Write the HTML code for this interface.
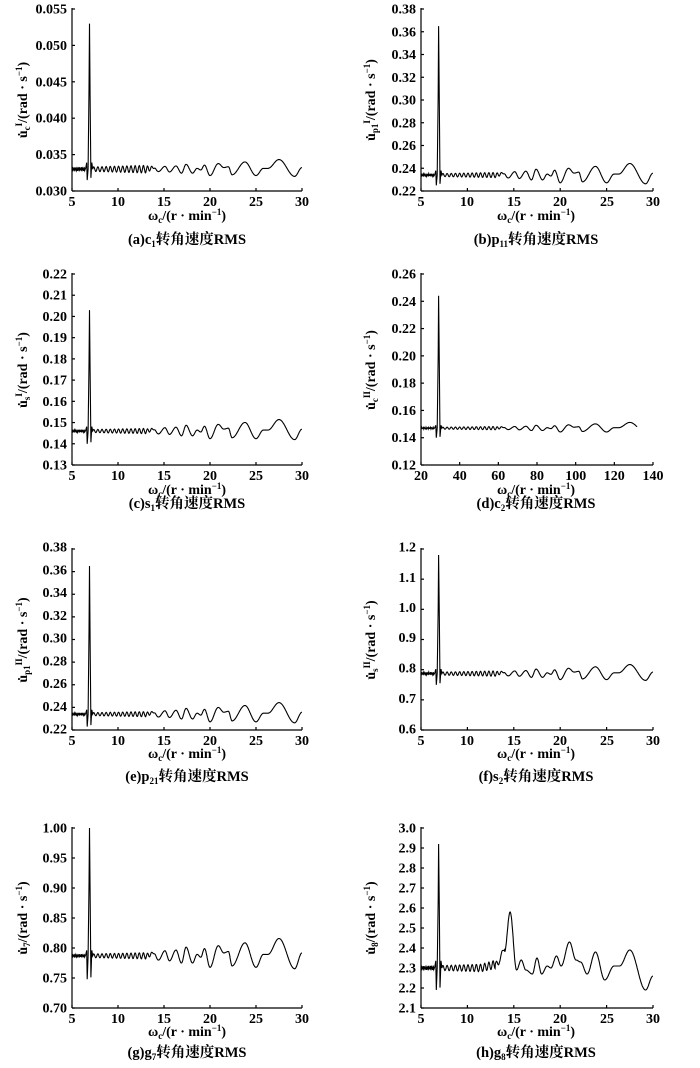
<!DOCTYPE html>
<html><head><meta charset="utf-8"><style>
body{margin:0;background:#fff;}
svg{display:block;font-family:"Liberation Serif","Noto Serif CJK SC",serif;font-weight:bold;}
.t{font-size:14px;}
.yl text{text-anchor:end;}
.xl text{text-anchor:middle;}
.cap{font-size:14.5px;text-anchor:middle;}
</style></head><body>
<svg id="s" width="700" height="1068" viewBox="0 0 700 1068" xmlns="http://www.w3.org/2000/svg">
<g id="axes" stroke="#000" stroke-width="1.2" fill="none"></g>
<g id="curves" stroke="#000" stroke-width="1.1" fill="none"></g>
<g class="t yl">
<text x="67" y="13.5">0.055</text><text x="67" y="50">0.050</text><text x="67" y="86.3">0.045</text><text x="67" y="122.7">0.040</text><text x="67" y="159">0.035</text><text x="67" y="195.5">0.030</text>
<text x="416" y="13.5">0.38</text><text x="416" y="36.3">0.36</text><text x="416" y="59">0.34</text><text x="416" y="81.8">0.32</text><text x="416" y="104.5">0.30</text><text x="416" y="127.3">0.28</text><text x="416" y="150">0.26</text><text x="416" y="172.8">0.24</text><text x="416" y="195.5">0.22</text>
<text x="67" y="278.5">0.22</text><text x="67" y="299.7">0.21</text><text x="67" y="320.9">0.20</text><text x="67" y="342.2">0.19</text><text x="67" y="363.4">0.18</text><text x="67" y="384.6">0.17</text><text x="67" y="405.8">0.16</text><text x="67" y="427.1">0.15</text><text x="67" y="448.3">0.14</text><text x="67" y="469.5">0.13</text>
<text x="416" y="278.5">0.26</text><text x="416" y="305.8">0.24</text><text x="416" y="333.1">0.22</text><text x="416" y="360.4">0.20</text><text x="416" y="387.6">0.18</text><text x="416" y="414.9">0.16</text><text x="416" y="442.2">0.14</text><text x="416" y="469.5">0.12</text>
<text x="67" y="551.5">0.38</text><text x="67" y="574.3">0.36</text><text x="67" y="597">0.34</text><text x="67" y="619.8">0.32</text><text x="67" y="642.5">0.30</text><text x="67" y="665.3">0.28</text><text x="67" y="688">0.26</text><text x="67" y="710.8">0.24</text><text x="67" y="733.5">0.22</text>
<text x="416" y="551.5">1.2</text><text x="416" y="581.8">1.1</text><text x="416" y="612">1.0</text><text x="416" y="642.2">0.9</text><text x="416" y="672.5">0.8</text><text x="416" y="702.8">0.7</text><text x="416" y="733.5">0.6</text>
<text x="67" y="832.5">1.00</text><text x="67" y="862.5">0.95</text><text x="67" y="892.5">0.90</text><text x="67" y="922.5">0.85</text><text x="67" y="952.5">0.80</text><text x="67" y="982.5">0.75</text><text x="67" y="1012.5">0.70</text>
<text x="416" y="832.5">3.0</text><text x="416" y="852.5">2.9</text><text x="416" y="872.5">2.8</text><text x="416" y="892.5">2.7</text><text x="416" y="912.5">2.6</text><text x="416" y="932.5">2.5</text><text x="416" y="952.5">2.4</text><text x="416" y="972.5">2.3</text><text x="416" y="992.5">2.2</text><text x="416" y="1012.5">2.1</text>
</g>
<g class="t xl">
<text x="72" y="206">5</text><text x="118" y="206">10</text><text x="164" y="206">15</text><text x="210" y="206">20</text><text x="256" y="206">25</text><text x="302" y="206">30</text>
<text x="421" y="206">5</text><text x="467" y="206">10</text><text x="514" y="206">15</text><text x="560" y="206">20</text><text x="607" y="206">25</text><text x="653" y="206">30</text>
<text x="72" y="480">5</text><text x="118" y="480">10</text><text x="164" y="480">15</text><text x="210" y="480">20</text><text x="256" y="480">25</text><text x="302" y="480">30</text>
<text x="421" y="480">20</text><text x="459.7" y="480">40</text><text x="498.3" y="480">60</text><text x="537" y="480">80</text><text x="575.7" y="480">100</text><text x="614.3" y="480">120</text><text x="653" y="480">140</text>
<text x="72" y="745">5</text><text x="118" y="745">10</text><text x="164" y="745">15</text><text x="210" y="745">20</text><text x="256" y="745">25</text><text x="302" y="745">30</text>
<text x="421" y="745">5</text><text x="467" y="745">10</text><text x="514" y="745">15</text><text x="560" y="745">20</text><text x="607" y="745">25</text><text x="653" y="745">30</text>
<text x="72" y="1023">5</text><text x="118" y="1023">10</text><text x="164" y="1023">15</text><text x="210" y="1023">20</text><text x="256" y="1023">25</text><text x="302" y="1023">30</text>
<text x="421" y="1023">5</text><text x="467" y="1023">10</text><text x="514" y="1023">15</text><text x="560" y="1023">20</text><text x="607" y="1023">25</text><text x="653" y="1023">30</text>
</g>
<g class="t xl">
<text x="187" y="220">ω<tspan font-size="9" dy="3">c</tspan><tspan dy="-3">/(r · min</tspan><tspan font-size="9" dy="-5">−1</tspan><tspan dy="5">)</tspan></text>
<text x="536" y="220">ω<tspan font-size="9" dy="3">c</tspan><tspan dy="-3">/(r · min</tspan><tspan font-size="9" dy="-5">−1</tspan><tspan dy="5">)</tspan></text>
<text x="187" y="494">ω<tspan font-size="9" dy="3">c</tspan><tspan dy="-3">/(r · min</tspan><tspan font-size="9" dy="-5">−1</tspan><tspan dy="5">)</tspan></text>
<text x="536" y="494">ω<tspan font-size="9" dy="3">c</tspan><tspan dy="-3">/(r · min</tspan><tspan font-size="9" dy="-5">−1</tspan><tspan dy="5">)</tspan></text>
<text x="187" y="758">ω<tspan font-size="9" dy="3">c</tspan><tspan dy="-3">/(r · min</tspan><tspan font-size="9" dy="-5">−1</tspan><tspan dy="5">)</tspan></text>
<text x="536" y="758">ω<tspan font-size="9" dy="3">c</tspan><tspan dy="-3">/(r · min</tspan><tspan font-size="9" dy="-5">−1</tspan><tspan dy="5">)</tspan></text>
<text x="187" y="1036">ω<tspan font-size="9" dy="3">c</tspan><tspan dy="-3">/(r · min</tspan><tspan font-size="9" dy="-5">−1</tspan><tspan dy="5">)</tspan></text>
<text x="536" y="1036">ω<tspan font-size="9" dy="3">c</tspan><tspan dy="-3">/(r · min</tspan><tspan font-size="9" dy="-5">−1</tspan><tspan dy="5">)</tspan></text>
</g>
<g class="cap">
<text x="187" y="244">(a)c<tspan font-size="9" dy="3">1</tspan><tspan dy="-3">转角速度RMS</tspan></text>
<text x="536" y="244">(b)p<tspan font-size="9" dy="3">11</tspan><tspan dy="-3">转角速度RMS</tspan></text>
<text x="187" y="508">(c)s<tspan font-size="9" dy="3">1</tspan><tspan dy="-3">转角速度RMS</tspan></text>
<text x="536" y="508">(d)c<tspan font-size="9" dy="3">2</tspan><tspan dy="-3">转角速度RMS</tspan></text>
<text x="187" y="781">(e)p<tspan font-size="9" dy="3">21</tspan><tspan dy="-3">转角速度RMS</tspan></text>
<text x="536" y="781">(f)s<tspan font-size="9" dy="3">2</tspan><tspan dy="-3">转角速度RMS</tspan></text>
<text x="187" y="1057">(g)g<tspan font-size="9" dy="3">7</tspan><tspan dy="-3">转角速度RMS</tspan></text>
<text x="536" y="1057">(h)g<tspan font-size="9" dy="3">8</tspan><tspan dy="-3">转角速度RMS</tspan></text>
</g>
<g class="t">
<text transform="translate(27,100) rotate(-90)" text-anchor="middle">u̇<tspan font-size="9" dy="3">c</tspan><tspan font-size="9" dy="-8">I</tspan><tspan dy="5">/(rad · s</tspan><tspan font-size="9" dy="-5">−1</tspan><tspan dy="5">)</tspan></text>
<text transform="translate(375,100) rotate(-90)" text-anchor="middle">u̇<tspan font-size="9" dy="3">p1</tspan><tspan font-size="9" dy="-8">I</tspan><tspan dy="5">/(rad · s</tspan><tspan font-size="9" dy="-5">−1</tspan><tspan dy="5">)</tspan></text>
<text transform="translate(27,370) rotate(-90)" text-anchor="middle">u̇<tspan font-size="9" dy="3">s</tspan><tspan font-size="9" dy="-8">I</tspan><tspan dy="5">/(rad · s</tspan><tspan font-size="9" dy="-5">−1</tspan><tspan dy="5">)</tspan></text>
<text transform="translate(375,370) rotate(-90)" text-anchor="middle">u̇<tspan font-size="9" dy="3">c</tspan><tspan font-size="9" dy="-8">II</tspan><tspan dy="5">/(rad · s</tspan><tspan font-size="9" dy="-5">−1</tspan><tspan dy="5">)</tspan></text>
<text transform="translate(27,640) rotate(-90)" text-anchor="middle">u̇<tspan font-size="9" dy="3">p1</tspan><tspan font-size="9" dy="-8">II</tspan><tspan dy="5">/(rad · s</tspan><tspan font-size="9" dy="-5">−1</tspan><tspan dy="5">)</tspan></text>
<text transform="translate(375,640) rotate(-90)" text-anchor="middle">u̇<tspan font-size="9" dy="3">s</tspan><tspan font-size="9" dy="-8">II</tspan><tspan dy="5">/(rad · s</tspan><tspan font-size="9" dy="-5">−1</tspan><tspan dy="5">)</tspan></text>
<text transform="translate(27,918) rotate(-90)" text-anchor="middle">u̇<tspan font-size="9" dy="3">7</tspan><tspan dy="-3">/(rad · s</tspan><tspan font-size="9" dy="-5">−1</tspan><tspan dy="5">)</tspan></text>
<text transform="translate(375,918) rotate(-90)" text-anchor="middle">u̇<tspan font-size="9" dy="3">8</tspan><tspan dy="-3">/(rad · s</tspan><tspan font-size="9" dy="-5">−1</tspan><tspan dy="5">)</tspan></text>
</g>
</svg>
<script>
(function(){
var NS="http://www.w3.org/2000/svg";
var axes=document.getElementById("axes"),cur=document.getElementById("curves");
// x0,x1,top,bottom,ymin,ymax,nY, base, noise, spikeMax, spikeMin, oscAmp, xend, special, nX
var P=[
[72,302,9,191,0.030,0.055,6,0.033,0.0003,0.053,0.0315,0.0011,30,0,6],
[421,653,9,191,0.22,0.38,9,0.234,0.0013,0.365,0.225,0.0085,30,0,6],
[72,302,274,465,0.13,0.22,10,0.146,0.0007,0.203,0.140,0.0045,30,0,6],
[421,653,274,465,0.12,0.26,8,0.147,0.0007,0.244,0.140,0.0035,28.3,0,7],
[72,302,549,730,0.22,0.38,9,0.234,0.0013,0.365,0.223,0.0085,30,0,6],
[421,653,549,730,0.6,1.2,7,0.787,0.005,1.18,0.75,0.025,30,0,6],
[72,302,828,1008,0.70,1.00,7,0.787,0.003,1.0,0.748,0.024,30,0,6],
[421,653,828,1008,2.1,3.0,10,2.30,0.012,2.92,2.19,0.06,30,1,6]
];
var EX=[[13,0],[13.8,0.3],[14.4,-0.3],[15.1,0.35],[15.6,-0.35],[16.3,0.4],[16.9,-0.5],[17.4,0.6],[18.1,-0.5],[18.6,0.1],[19.0,-0.1],[19.4,0.5],[20.0,-0.8],[20.9,0.7],[21.5,0.2],[22,0.3],[22.4,-0.7],[23.8,0.9],[25,-0.8],[25.8,0.1],[26.3,0.1],[27.5,1.2],[29.2,-0.9],[30,0.2]];
var EH=[[13,2.32],[13.5,2.33],[13.8,2.40],[14.0,2.38],[14.6,2.58],[15.3,2.29],[15.8,2.34],[16.3,2.29],[17.0,2.27],[17.5,2.35],[18.0,2.27],[18.6,2.31],[19.0,2.30],[19.6,2.36],[20.1,2.31],[21,2.43],[21.7,2.34],[22.2,2.33],[22.9,2.27],[23.8,2.38],[24.8,2.24],[25.8,2.31],[26.4,2.31],[27.5,2.39],[29.2,2.19],[30,2.26]];
function interp(E,x){for(var i=0;i<E.length-1;i++){if(x>=E[i][0]&&x<=E[i+1][0]){var t=(x-E[i][0])/(E[i+1][0]-E[i][0]);var s=(1-Math.cos(Math.PI*t))/2;return E[i][1]+(E[i+1][1]-E[i][1])*s;}}return E[E.length-1][1];}
function line(x1,y1,x2,y2){var l=document.createElementNS(NS,"line");l.setAttribute("x1",x1);l.setAttribute("y1",y1);l.setAttribute("x2",x2);l.setAttribute("y2",y2);axes.appendChild(l);}
P.forEach(function(p,k){
 var x0=p[0],x1=p[1],T=p[2],B=p[3],ymin=p[4],ymax=p[5],n=p[6],nx=p[14];
 line(x0,T-1,x0,B);line(x0,B,x1,B);
 for(var i=0;i<n;i++){var y=T+(B-T)*i/(n-1);line(x0,y,x0+3,y);}
 for(var i=0;i<nx;i++){var x=x0+(x1-x0)*i/(nx-1);line(x,B,x,B-3);}
 function X(v){return x0+(v-5)/25*(x1-x0);}
 function Y(v){return B-(v-ymin)/(ymax-ymin)*(B-T);}
 var b=p[7],nz=p[8],d="",A=p[11];
 var pts=[];
 for(var x=5;x<6.55;x+=0.06){pts.push([x,b+nz*Math.sin(x*40)]);}
 pts.push([6.6,b+nz*3]);pts.push([6.65,p[10]]);pts.push([6.75,b]);
 pts.push([6.85,b+(p[9]-b)*0.55]);pts.push([6.9,p[9]]);pts.push([6.97,b+(p[9]-b)*0.5]);
 pts.push([7.05,p[10]+nz]);pts.push([7.15,b+nz*3]);
 for(var x=7.25;x<=p[12];x+=0.03){
  var v;
  if(x<13){v=b+nz*Math.sin(2*Math.PI*(x-7.25)/0.45)*(1+(x-7)*0.12);
    if(p[13]) v+=Math.max(0,x-11.5)*0.012;}
  else if(p[13]) v=interp(EH,x)+ (x<14?nz*Math.sin(x*14):0);
  else { var w=Math.min(1,(x-13)/1.2); v=b+A*interp(EX,x)*w+(1-w)*nz*Math.sin(2*Math.PI*(x-7.25)/0.45)*1.7; }
  pts.push([x,v]);
 }
 pts.forEach(function(q,i){d+=(i?"L":"M")+X(q[0]).toFixed(1)+" "+Y(q[1]).toFixed(1);});
 var pa=document.createElementNS(NS,"path");pa.setAttribute("d",d);cur.appendChild(pa);
});
})();
</script>
</body></html>
